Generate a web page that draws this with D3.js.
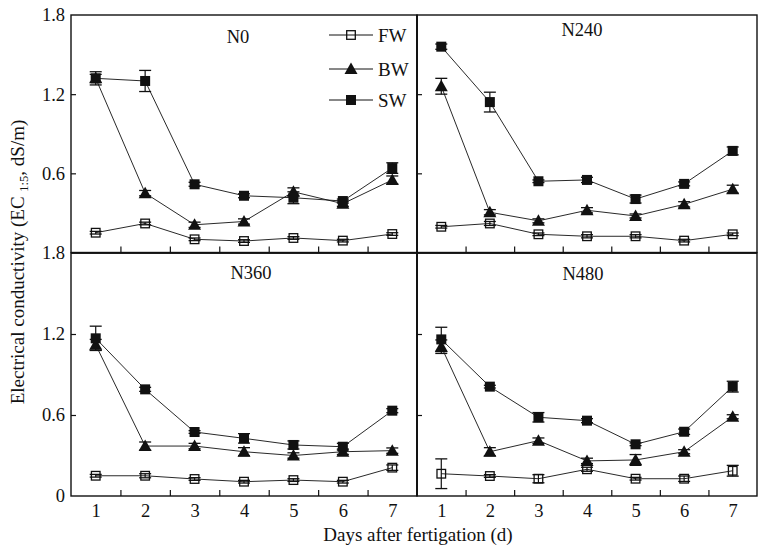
<!DOCTYPE html>
<html>
<head>
<meta charset="utf-8">
<script src="https://cdn.jsdelivr.net/npm/d3@7"></script>
<style>
  html, body { margin: 0; padding: 0; background: #fff; }
  svg { display: block; }
  text { font-family: "Liberation Serif", "Times New Roman", serif; fill: #111; }
</style>
</head>
<body>
<div id="chart"></div>
<script>
// ---- data ----
const days = [1, 2, 3, 4, 5, 6, 7];
const panelNames = ["N0", "N240", "N360", "N480"];
const seriesNames = ["FW", "BW", "SW"];
const yTicks = [0, 0.6, 1.2, 1.8];
const yTickLabels = ["0", "0.6", "1.2", "1.8"];

const fwMean = [
  [0.15, 0.22, 0.10, 0.087, 0.11, 0.09, 0.14],
  [0.195, 0.22, 0.138, 0.123, 0.123, 0.09, 0.138],
  [0.15, 0.15, 0.126, 0.106, 0.118, 0.106, 0.21],
  [0.165, 0.148, 0.128, 0.198, 0.128, 0.128, 0.187]
];
const fwErr = [
  [0.01, 0.01, 0.01, 0.01, 0.01, 0.01, 0.01],
  [0.01, 0.015, 0.01, 0.012, 0.012, 0.01, 0.01],
  [0.01, 0.015, 0.01, 0.01, 0.01, 0.01, 0.02],
  [0.11, 0.01, 0.03, 0.015, 0.01, 0.02, 0.04]
];
const bwMean = [
  [1.32, 0.45, 0.21, 0.235, 0.46, 0.37, 0.55],
  [1.26, 0.305, 0.24, 0.32, 0.277, 0.365, 0.48],
  [1.12, 0.37, 0.37, 0.328, 0.30, 0.328, 0.336],
  [1.106, 0.328, 0.41, 0.26, 0.267, 0.328, 0.587]
];
const bwErr = [
  [0.03, 0.02, 0.02, 0.02, 0.03, 0.02, 0.03],
  [0.06, 0.02, 0.015, 0.02, 0.015, 0.02, 0.03],
  [0.04, 0.03, 0.02, 0.03, 0.02, 0.02, 0.02],
  [0.05, 0.03, 0.02, 0.02, 0.04, 0.015, 0.015]
];
const swMean = [
  [1.32, 1.30, 0.517, 0.43, 0.415, 0.39, 0.64],
  [1.56, 1.14, 0.54, 0.55, 0.405, 0.52, 0.77],
  [1.168, 0.79, 0.474, 0.427, 0.378, 0.365, 0.632],
  [1.16, 0.81, 0.583, 0.558, 0.383, 0.476, 0.81]
];
const swErr = [
  [0.05, 0.08, 0.015, 0.015, 0.045, 0.015, 0.04],
  [0.02, 0.075, 0.01, 0.02, 0.03, 0.015, 0.03],
  [0.09, 0.015, 0.01, 0.035, 0.03, 0.025, 0.015],
  [0.09, 0.01, 0.035, 0.015, 0.01, 0.02, 0.04]
];

// ---- layout ----
const W = 759, H = 550;
const xL = [71, 417], xR = [417, 757];
const yTop = [252.5, 15], yBot = [496, 253];
const panelsLayout = [
  { x: xL, y: yTop, lx: 238, ly: 43 },
  { x: xR, y: yTop, lx: 582, ly: 36 },
  { x: xL, y: yBot, lx: 251, ly: 279 },
  { x: xR, y: yBot, lx: 583, ly: 280 }
];
const means = [fwMean, bwMean, swMean];
const errs = [fwErr, bwErr, swErr];

const svg = d3.select("#chart").append("svg").attr("width", W).attr("height", H);

function drawMarker(g, type, cx, cy) {
  if (type === 0) {
    g.append("rect").attr("x", cx - 4.3).attr("y", cy - 4.3).attr("width", 8.6).attr("height", 8.6)
      .attr("fill", "none").attr("stroke", "#111").attr("stroke-width", 1.3);
  } else if (type === 1) {
    const p = d3.path();
    p.moveTo(cx, cy - 6.5); p.lineTo(cx + 6.5, cy + 5); p.lineTo(cx - 6.5, cy + 5); p.closePath();
    g.append("path").attr("d", p.toString()).attr("fill", "#111");
  } else {
    g.append("rect").attr("x", cx - 5).attr("y", cy - 5).attr("width", 10).attr("height", 10)
      .attr("fill", "#111");
  }
}

panelsLayout.forEach((pl, pi) => {
  const x = d3.scaleLinear().domain([0.5, 7.5]).range(pl.x);
  const y = d3.scaleLinear().domain([0, 1.8]).range(pl.y);
  const g = svg.append("g");

  // frame
  g.append("rect").attr("x", pl.x[0]).attr("y", pl.y[1])
    .attr("width", pl.x[1] - pl.x[0]).attr("height", pl.y[0] - pl.y[1])
    .attr("fill", "none").attr("stroke", "#111").attr("stroke-width", 1.4);

  // y axis (inward ticks)
  const yAxis = d3.axisRight(y).tickValues([0.6, 1.2]).tickSize(5).tickFormat("");
  g.append("g").attr("transform", `translate(${pl.x[0]},0)`).call(yAxis)
    .call(a => a.select(".domain").remove())
    .selectAll("line").attr("stroke", "#111").attr("stroke-width", 1.2);

  // x axis (inward ticks at half days)
  const xAxis = d3.axisTop(x).tickValues([1.5, 2.5, 3.5, 4.5, 5.5, 6.5]).tickSize(6).tickFormat("");
  g.append("g").attr("transform", `translate(0,${pl.y[0]})`).call(xAxis)
    .call(a => a.select(".domain").remove())
    .selectAll("line").attr("stroke", "#111").attr("stroke-width", 1.2);

  // y tick labels on left panels
  if (pi === 0 || pi === 2) {
    const vals = pi === 0 ? [0.6, 1.2, 1.8] : yTicks;
    const yLab = d3.axisLeft(y).tickValues(vals).tickSize(0).tickPadding(6)
      .tickFormat(v => yTickLabels[yTicks.indexOf(v)]);
    g.append("g").attr("transform", `translate(${pl.x[0]},0)`).call(yLab)
      .call(a => a.select(".domain").remove())
      .selectAll("text").attr("font-size", 18.5).attr("font-family", "Liberation Serif, serif").attr("fill", "#111");
  }
  // x tick labels on bottom panels
  if (pi >= 2) {
    const xLab = d3.axisBottom(x).tickValues(days).tickSize(0).tickPadding(8).tickFormat(d3.format("d"));
    g.append("g").attr("transform", `translate(0,${pl.y[0]})`).call(xLab)
      .call(a => a.select(".domain").remove())
      .selectAll("text").attr("font-size", 18.5).attr("font-family", "Liberation Serif, serif").attr("fill", "#111");
  }

  // panel label
  g.append("text").attr("x", pl.lx).attr("y", pl.ly).attr("text-anchor", "middle")
    .attr("font-size", 18.5).text(panelNames[pi]);

  // series
  const line = d3.line().x((d, i) => x(days[i])).y(d => y(d));
  means.forEach((m, si) => {
    g.append("path").attr("d", line(m[pi])).attr("fill", "none")
      .attr("stroke", "#111").attr("stroke-width", 0.9);
  });
  means.forEach((m, si) => {
    m[pi].forEach((v, i) => {
      const e = errs[si][pi][i];
      const cx = x(days[i]);
      const y1 = y(v + e), y2 = y(v - e);
      g.append("line").attr("x1", cx).attr("x2", cx).attr("y1", y1).attr("y2", y2)
        .attr("stroke", "#111").attr("stroke-width", 1.2);
      [y1, y2].forEach(yy => g.append("line").attr("x1", cx - 6).attr("x2", cx + 6)
        .attr("y1", yy).attr("y2", yy).attr("stroke", "#111").attr("stroke-width", 1.3));
    });
  });
  means.forEach((m, si) => {
    m[pi].forEach((v, i) => drawMarker(g, si, x(days[i]), y(v)));
  });
});

// thicker dividers
svg.append("line").attr("x1", 71).attr("x2", 757).attr("y1", 252.8).attr("y2", 252.8)
  .attr("stroke", "#111").attr("stroke-width", 1.8);
svg.append("line").attr("x1", 417).attr("x2", 417).attr("y1", 15).attr("y2", 496)
  .attr("stroke", "#111").attr("stroke-width", 1.8);

// legend
const legY = [35, 69, 100];
seriesNames.forEach((s, i) => {
  const lg = svg.append("g");
  lg.append("line").attr("x1", 329).attr("x2", 373).attr("y1", legY[i]).attr("y2", legY[i])
    .attr("stroke", "#111").attr("stroke-width", 1);
  drawMarker(lg, i, 351, legY[i]);
  lg.append("text").attr("x", 378).attr("y", legY[i]).attr("dy", "0.35em")
    .attr("font-size", 19).text(s);
});

// axis titles
svg.append("text").attr("x", 418).attr("y", 541).attr("text-anchor", "middle")
  .attr("font-size", 19).text("Days after fertigation (d)");

const yt = svg.append("text").attr("transform", "translate(24,262) rotate(-90)")
  .attr("text-anchor", "middle").attr("font-size", 19);
yt.append("tspan").text("Electrical conductivity (EC ");
yt.append("tspan").attr("font-size", 12.5).attr("dy", 4).text("1:5");
yt.append("tspan").attr("dy", -4).text(", dS/m)");
</script>
</body>
</html>
